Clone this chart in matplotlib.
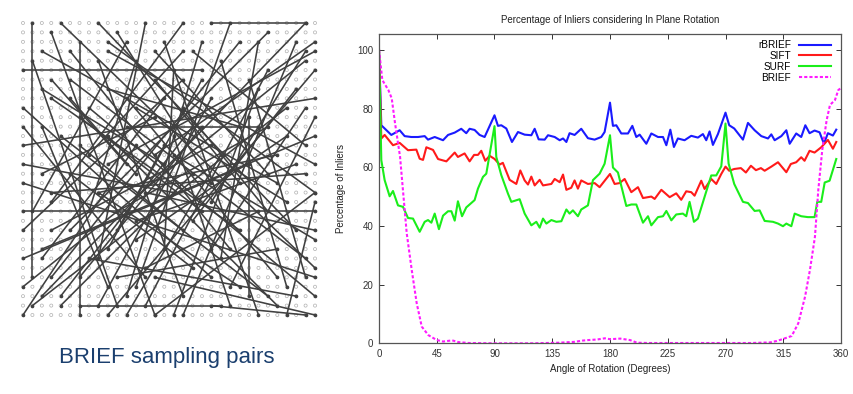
import matplotlib
matplotlib.use("Agg")
import matplotlib.pyplot as plt

plt.rcParams['font.family'] = ['Liberation Sans', 'DejaVu Sans']

# ---- right panel data: (angle in degrees, % inliers) ----
rbrief_deg = [0, 1.8, 9.6, 16.1, 20, 25.2, 30.4, 35.6, 38.2, 43.4, 49.9, 53.8, 59, 64.1, 68,
              70.6, 74.5, 78.4, 82.3, 90, 92.7, 95.3, 99.2, 103.6, 108.3, 113.5, 118.7, 121.3,
              124.4, 129.1, 131.7, 136.9, 140.8, 143.4, 146, 148.5, 152.4, 157.6, 162.8, 168,
              173.2, 175.8, 180, 182.3, 184.9, 188.8, 194, 197.4, 200.5, 203.1, 208.3, 212.2,
              217.4, 221.3, 223.9, 227, 229.8, 232.9, 238.1, 243.3, 248.5, 252.4, 255, 257.6,
              260.2, 264.1, 270, 272.9, 276.8, 283.6, 287.5, 292.7, 297.9, 303.1, 305.7, 308.3,
              313.5, 317.4, 320, 325.1, 329, 332.2, 335.5, 339.4, 343.3, 346.7, 349.8, 353.7, 356.3]
rbrief_val = [100, 74.3, 71.0, 72.6, 70.6, 70.3, 70.3, 70.6, 69.4, 70.3, 69.2, 71.0, 71.8, 73.1, 71.6,
              73.1, 72.7, 71.0, 70.3, 77.7, 74.1, 74.3, 73.2, 68.6, 72.0, 71.1, 70.9, 73.1,
              69.5, 69.4, 70.9, 70.3, 69.2, 69.8, 68.6, 71.6, 71.0, 73.1, 69.9, 69.4,
              70.3, 72.0, 82.0, 74.1, 74.3, 71.5, 71.5, 74.1, 70.3, 71.1, 68.0, 71.5,
              70.3, 70.3, 67.5, 72.8, 66.9, 69.8, 69.2, 70.7, 70.1, 71.3, 69.2, 72.2,
              67.6, 71.3, 78.6, 74.3, 73.2, 69.4, 75.1, 72.6, 70.6, 69.8, 71.2, 69.2,
              70.6, 72.6, 68.0, 71.5, 70.3, 74.3, 71.6, 72.5, 71.9, 68.0, 71.6, 70.8, 72.8]

sift_deg = [0, 1.8, 4.4, 10.9, 16.1, 22.6, 29.1, 31.7, 34.3, 36.9, 42.1, 46, 52.5, 59, 61.5, 66.7,
            70.6, 74.1, 77.1, 79.7, 82.8, 86.2, 90.1, 94, 96.5, 101.8, 107, 110.1, 113.5, 116.1,
            118.7, 121.3, 125.2, 127.8, 134.3, 136.9, 140.8, 143.4, 146, 149.8, 152.4, 155, 157.6,
            162.8, 168, 171.9, 180, 183.6, 187.5, 191.4, 196.6, 201.8, 205.7, 212.2, 214.8, 220,
            226.5, 231.6, 235.5, 239.4, 243.3, 245.9, 251.1, 253.7, 258.9, 262.8, 266.7, 270,
            272.9, 276.8, 282, 285.9, 289.8, 293.7, 297.6, 300.5, 305.7, 310.9, 317.4, 320.9,
            325.1, 329, 331.6, 335.5, 339.4, 344.6, 349.8, 353.7, 356.3]
sift_val = [100, 69.8, 71.0, 67.5, 68.3, 65.8, 66.0, 62.9, 62.5, 66.8, 65.9, 62.8, 62.0, 65.0, 63.5, 64.7,
            62.0, 64.2, 64.2, 65.6, 62.2, 63.9, 62.8, 60.9, 61.5, 55.7, 54.3, 58.9, 55.5, 54.1,
            56.8, 53.8, 55.7, 53.8, 54.3, 56.0, 54.9, 57.5, 52.3, 53.0, 55.5, 52.7, 55.5,
            54.3, 54.6, 53.2, 57.7, 54.3, 54.6, 56.0, 51.5, 53.2, 49.5, 50.0, 49.2, 52.3,
            49.8, 51.1, 48.9, 51.8, 51.5, 50.3, 55.4, 52.6, 56.0, 54.3, 57.7, 60.2,
            58.8, 59.4, 59.7, 58.2, 60.5, 59.0, 59.7, 58.8, 60.2, 61.7, 58.3, 61.1,
            61.7, 63.4, 62.2, 65.6, 65.0, 66.8, 69.3, 66.3, 68.6]

surf_deg = [0, 1.8, 4.4, 8.3, 10.9, 14.8, 18.7, 22.6, 26.5, 31.7, 35.6, 38.2, 40.8, 43.4, 46.7, 49.9,
            53.8, 56.4, 59, 61.5, 64.7, 68, 74.5, 77.1, 81, 83.6, 90, 91.4, 95.3, 100.5, 103.1,
            109.6, 113.5, 118.7, 122.6, 125.2, 127.8, 130.4, 134.3, 138.2, 142.1, 146, 148.5,
            151.1, 155, 157.6, 162.8, 166.7, 171.9, 175.8, 180, 182.3, 186.2, 192.7, 196.6, 200.5,
            205.7, 209.6, 212.2, 217.4, 221.3, 223.9, 227.8, 231.6, 236.8, 239.4, 242, 245.4,
            248.5, 253.7, 258.9, 262.8, 266.7, 270, 272.4, 276.8, 283.6, 287.5, 292.7, 296.6,
            300.5, 307, 310.9, 314.8, 317.4, 321.3, 323.9, 329, 334.2, 339.4, 341.5, 344.6,
            347.3, 351.1, 356.3]
surf_val = [100, 62.4, 55.6, 50.1, 51.9, 47.0, 46.5, 42.7, 42.5, 38.0, 41.4, 42.0, 41.1, 44.2, 38.9, 43.5,
            45.0, 45.0, 41.8, 48.4, 43.3, 46.3, 48.8, 52.7, 56.7, 57.8, 74.0, 63.5, 57.3, 51.0, 48.2,
            49.1, 44.2, 40.2, 41.4, 39.4, 42.5, 40.8, 42.0, 41.4, 41.6, 45.6, 44.2,
            45.3, 43.3, 45.6, 47.0, 55.6, 57.8, 61.2, 70.9, 59.9, 58.2, 46.8, 47.3, 47.3,
            41.1, 43.3, 40.2, 43.0, 43.3, 45.1, 41.9, 43.9, 44.2, 43.3, 48.2, 41.4,
            42.5, 49.9, 57.2, 57.2, 60.3, 74.9, 61.3, 54.3, 48.2, 47.8, 45.1, 45.3,
            41.7, 41.4, 40.8, 39.9, 40.8, 39.9, 44.2, 43.3, 43.0, 43.0, 48.2, 48.2,
            54.8, 55.4, 62.8]

brief_deg = [0, 2.6, 7.3, 9.9, 12.5, 16.4, 18.9, 21.6, 25.5, 29.4, 33.3, 38.4, 45, 50, 57, 62, 70,
             90, 120, 140, 152.7, 158, 163, 170, 176, 180, 184, 188, 195.6, 201, 210, 250, 290,
             304.7, 310, 315, 321.6, 326.7, 332, 335.8, 339.7, 342.3, 345.4, 348.8, 351.4, 355.3,
             357.9, 360]
brief_val = [100, 89.7, 86.3, 83.5, 75, 63.6, 51, 37.5, 25, 13.6, 5.7, 2.8, 1.1, 0.6, 1.0, 0.4, 0.1,
             0.0, 0.0, 0.2, 0.5, 0.9, 1.1, 1.3, 1.7, 1.4, 1.5, 1.6, 1.1, 0.2, 0.1, 0.1, 0.1,
             0.3, 0.8, 1.5, 2.5, 6.8, 15.9, 25, 36.3, 52.2, 65.9, 76, 81.2, 82.9,
             86.3, 87]

# ---- left panel data: 32x32 patch, sampled point pairs (col1, row1, col2, row2) ----
grid_n = 32
pairs = [
    (1, 0, 1, 27), (0, 5, 19, 5), (20, 0, 30, 0), (6, 2, 6, 31), (0, 20, 31, 20),
    (6, 30, 21, 30), (20, 30, 30, 31), (24, 10, 24, 29), (4, 0, 31, 26), (30, 0, 2, 29),
    (0, 13, 31, 8), (2, 24, 31, 12), (0, 28, 30, 4), (0, 25, 24, 15), (13, 0, 8, 25),
    (15, 2, 25, 31), (3, 1, 14, 31), (8, 0, 29, 22), (1, 4, 10, 30), (22, 0, 12, 28),
    (26, 1, 5, 22), (31, 3, 9, 15), (29, 2, 17, 31), (0, 9, 20, 27), (2, 3, 27, 17),
    (10, 1, 20, 17), (17, 0, 3, 19), (31, 15, 9, 3), (0, 17, 31, 27), (5, 6, 30, 25),
    (1, 30, 28, 9), (3, 27, 23, 2), (9, 31, 31, 5), (11, 29, 19, 2), (0, 22, 17, 6),
    (31, 18, 14, 31), (28, 31, 31, 19), (16, 31, 25, 7), (4, 12, 26, 29), (0, 11, 13, 27),
    (18, 3, 30, 13), (7, 9, 31, 29), (12, 4, 7, 20), (2, 16, 14, 10), (20, 8, 8, 30),
    (26, 5, 13, 30), (14, 14, 31, 2), (9, 12, 27, 30), (0, 31, 12, 13), (23, 22, 3, 8),
    (5, 3, 22, 24), (27, 27, 11, 8), (19, 11, 6, 27), (15, 8, 2, 25), (29, 7, 18, 21),
    (3, 18, 30, 16), (10, 20, 26, 11), (7, 25, 29, 29), (21, 14, 11, 31), (13, 18, 31, 22),
    (25, 2, 21, 25), (8, 4, 17, 29), (31, 23, 16, 14), (1, 20, 11, 2), (17, 22, 6, 13),
    (12, 9, 28, 19), (4, 29, 18, 11), (22, 28, 31, 10), (14, 3, 26, 16), (9, 7, 23, 11),
    (28, 12, 12, 23), (2, 11, 9, 28), (18, 26, 5, 16), (24, 6, 30, 27), (11, 15, 3, 6),
    (16, 5, 15, 24), (20, 19, 30, 3), (6, 10, 19, 20), (27, 14, 8, 18), (13, 26, 25, 20),
    (5, 8, 12, 16), (19, 6, 9, 24), (10, 27, 27, 24), (23, 17, 14, 6), (3, 22, 20, 13),
    (16, 12, 22, 30), (30, 9, 20, 24), (7, 14, 17, 3), (12, 21, 29, 15), (18, 16, 4, 30),
    (25, 11, 11, 11), (8, 18, 23, 28), (0, 15, 16, 18), (21, 4, 28, 28), (14, 27, 31, 31),
    (2, 7, 15, 15), (26, 20, 17, 9), (9, 2, 31, 18), (15, 13, 10, 22),
]

fig = plt.figure(figsize=(8.54, 3.94), dpi=100)

# ---- left: sampling pairs picture ----
axl = fig.add_axes([18 / 854, 1 - 320 / 394, 302 / 854, 302 / 394])
gx = [c for r in range(grid_n) for c in range(grid_n)]
gy = [r for r in range(grid_n) for c in range(grid_n)]
axl.scatter(gx, gy, s=5, facecolors='none', edgecolors='#b0b0b0', linewidths=0.5, zorder=1)
for x1, y1, x2, y2 in pairs:
    axl.plot([x1, x2], [y1, y2], color='#404040', lw=1.15, solid_capstyle='round', zorder=2)
    axl.plot([x1, x2], [y1, y2], 'o', color='#404040', ms=1.6, zorder=3)
axl.set_xlim(-0.53, 31.53)
axl.set_ylim(31.53, -0.53)
axl.axis('off')
fig.text(167 / 854, 1 - 357 / 394, 'BRIEF sampling pairs', ha='center', va='center',
         fontsize=16, color='#1b3f6e')

# ---- right: line chart ----
ax = fig.add_axes([379 / 854, 1 - 343.3 / 394, 462 / 854, 309.3 / 394])
ax.plot(rbrief_deg, rbrief_val, color='#1a1aff', lw=1.5, label='rBRIEF')
ax.plot(sift_deg, sift_val, color='#ff1a1a', lw=1.5, label='SIFT')
ax.plot(surf_deg, surf_val, color='#1aee1a', lw=1.5, label='SURF')
ax.plot(brief_deg, brief_val, color='#ff1aff', lw=1.5, ls=(0, (1.5, 1)), label='BRIEF')

ax.set_xlim(0, 360)
ax.set_ylim(0, 105.4)
ax.set_xticks(range(0, 361, 45))
ax.set_yticks(range(0, 101, 20))
ax.tick_params(direction='in', length=3.5, width=0.7, top=True, right=True,
               labelsize=7, colors='#333333', pad=4)
for s in ax.spines.values():
    s.set_color('#555555')
    s.set_linewidth(0.9)

ax.set_title('Percentage of Inliers considering In Plane Rotation', fontsize=7, color='#222222', pad=8)
ax.set_xlabel('Angle of Rotation (Degrees)', fontsize=7, color='#222222', labelpad=4)
ax.set_ylabel('Percentage of Inliers', fontsize=7, color='#222222', labelpad=8)

ax.legend(loc='upper right', bbox_to_anchor=(0.978, 0.98), frameon=False, markerfirst=False,
          fontsize=7.2, handlelength=3.2, handletextpad=0.8, labelspacing=0.08,
          borderpad=0, borderaxespad=0)

fig.savefig('out.png', dpi=100)
